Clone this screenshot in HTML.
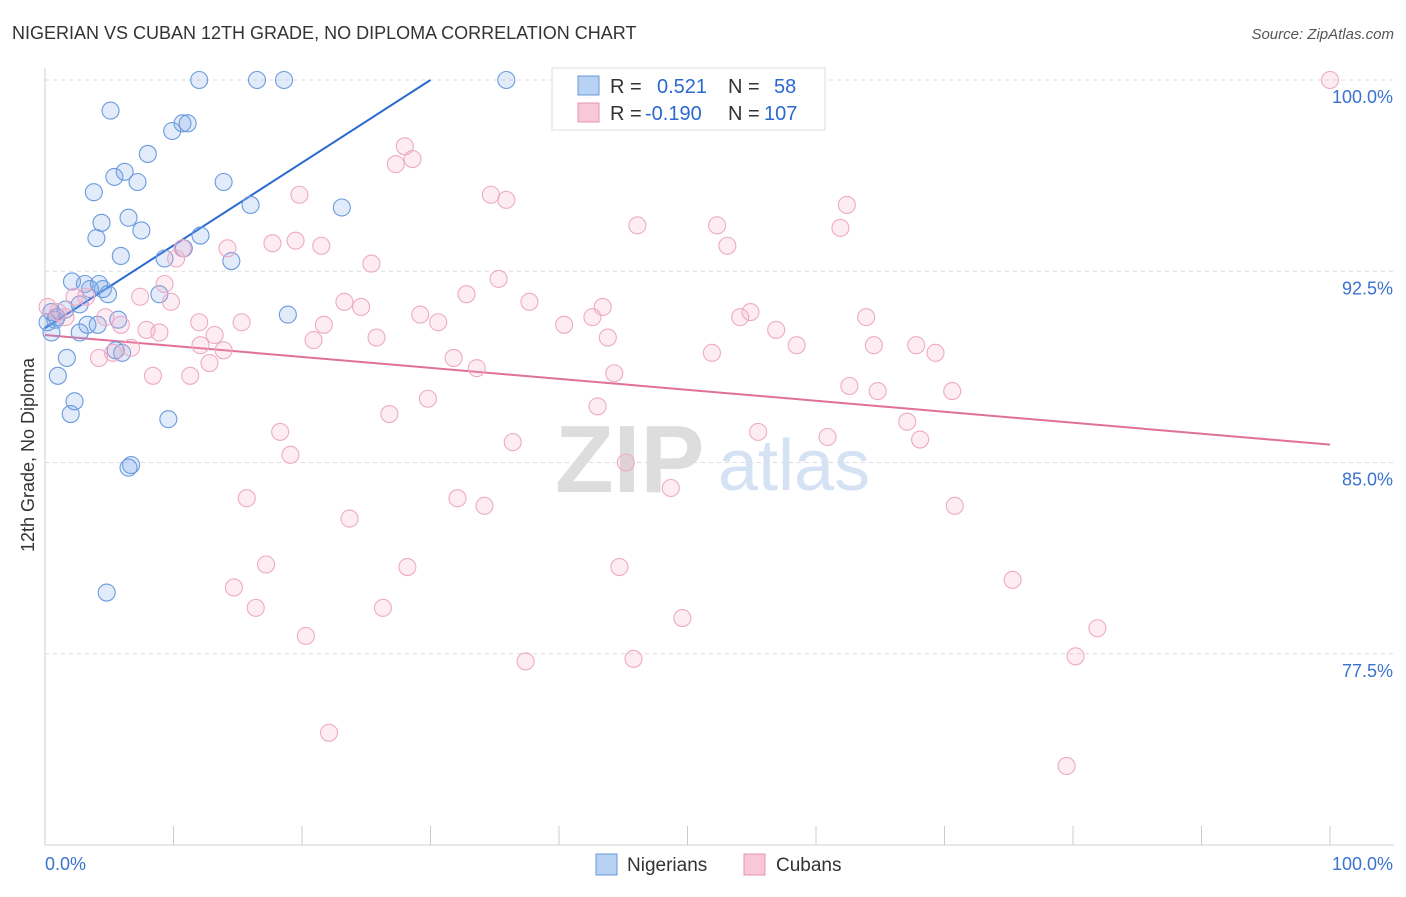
<!DOCTYPE html>
<html><head><meta charset="utf-8"><style>
body{margin:0;background:#fff;font-family:"Liberation Sans",sans-serif}
svg text{font-family:"Liberation Sans",sans-serif}
</style></head><body>
<svg id="chart" width="1406" height="892" xmlns="http://www.w3.org/2000/svg">
<text x="12" y="39" font-size="18" fill="#333">NIGERIAN VS CUBAN 12TH GRADE, NO DIPLOMA CORRELATION CHART</text>
<text x="1394" y="39" font-size="15" fill="#555" text-anchor="end" font-style="italic">Source: ZipAtlas.com</text>
<g>
<text x="555" y="492" font-size="96" fill="#ddd" font-family="Liberation Serif" font-weight="bold">ZIP</text>
<text x="718" y="490" font-size="72" fill="#d4e2f4">atlas</text>
</g>
<g id="grid"></g>
<g id="axes"></g>
<g id="trends"></g>
<g id="pts"></g>
<text transform="translate(34,455) rotate(-90)" font-size="18" fill="#333" text-anchor="middle">12th Grade, No Diploma</text>
<g>
<rect x="552" y="68" width="273" height="62" fill="#fff" stroke="#ddd"/>
<rect x="578" y="76" width="21" height="19" fill="#b8d2f4" stroke="#6a9ad8"/>
<rect x="578" y="103" width="21" height="19" fill="#f9c8d8" stroke="#e893b2"/>
<text x="610" y="93" font-size="20" fill="#333">R =</text><text x="657" y="93" font-size="20" fill="#2a6ad0">0.521</text>
<text x="728" y="93" font-size="20" fill="#333">N =</text><text x="774" y="93" font-size="20" fill="#2a6ad0">58</text>
<text x="610" y="120" font-size="20" fill="#333">R =</text><text x="645" y="120" font-size="20" fill="#2a6ad0">-0.190</text>
<text x="728" y="120" font-size="20" fill="#333">N =</text><text x="764" y="120" font-size="20" fill="#2a6ad0">107</text>
</g>
<g>
<rect x="596" y="854" width="21" height="21" fill="#b8d2f4" stroke="#6a9ad8"/>
<text x="627" y="871" font-size="19" fill="#333">Nigerians</text>
<rect x="744" y="854" width="21" height="21" fill="#f9c8d8" stroke="#e893b2"/>
<text x="776" y="871" font-size="19" fill="#333">Cubans</text>
</g>
</svg>
<script>
const yTicks=[100,92.5,85,77.5];
const yTickLabels=["100.0%","92.5%","85.0%","77.5%"];
const xTicks=[0,10,20,30,40,50,60,70,80,90,100];
const xEndLabels=["0.0%","100.0%"];
const nigX=[12.0,16.5,18.6,35.9,5.1,10.7,11.1,9.9,8.0,6.2,5.4,7.2,3.8,13.9,16.0,23.1,4.4,6.5,7.5,4.0,10.8,12.1,5.9,9.3,14.5,2.1,3.1,4.2,3.5,4.5,4.9,8.9,2.7,1.6,0.5,0.9,0.2,3.3,4.1,2.7,0.5,5.7,18.9,5.5,6.0,1.7,1.0,2.3,2.0,9.6,6.7,6.5,4.8,0.8];
const nigY=[100,100,100,100,98.8,98.3,98.3,98.0,97.1,96.4,96.2,96.0,95.6,96.0,95.1,95.0,94.4,94.6,94.1,93.8,93.4,93.9,93.1,93.0,92.9,92.1,92.0,92.0,91.8,91.8,91.6,91.6,91.2,91.0,90.9,90.7,90.5,90.4,90.4,90.1,90.1,90.6,90.8,89.4,89.3,89.1,88.4,87.4,86.9,86.7,84.9,84.8,79.9,90.6];
const cubX=[100,28.0,28.6,27.3,34.7,35.9,19.8,62.4,46.1,52.3,61.9,53.1,17.7,19.5,21.5,14.2,10.7,10.2,25.4,35.3,9.3,7.4,9.8,3.2,2.3,32.8,37.7,23.3,24.6,43.4,0.2,1.0,1.6,29.2,30.6,40.4,42.6,54.1,54.9,63.9,4.7,5.9,7.9,12.0,15.3,21.7,20.9,25.8,43.8,56.9,8.9,13.2,12.1,13.9,6.7,5.3,4.2,12.8,31.8,33.6,58.5,51.9,64.5,67.8,69.3,44.3,8.4,11.3,62.6,64.8,70.6,29.8,43.0,26.8,67.1,18.3,36.4,55.5,60.9,68.1,19.1,45.2,48.7,15.7,32.1,34.2,70.8,23.7,17.2,28.2,44.7,14.7,16.4,26.3,75.3,49.6,20.3,81.9,37.4,45.8,80.2,22.1,79.5];
const cubY=[100,97.4,96.9,96.7,95.5,95.3,95.5,95.1,94.3,94.3,94.2,93.5,93.6,93.7,93.5,93.4,93.4,93.0,92.8,92.2,92.0,91.5,91.3,91.5,91.5,91.6,91.3,91.3,91.1,91.1,91.1,90.9,90.7,90.8,90.5,90.4,90.7,90.7,90.9,90.7,90.7,90.4,90.2,90.5,90.5,90.4,89.8,89.9,89.9,90.2,90.1,90.0,89.6,89.4,89.5,89.3,89.1,88.9,89.1,88.7,89.6,89.3,89.6,89.6,89.3,88.5,88.4,88.4,88.0,87.8,87.8,87.5,87.2,86.9,86.6,86.2,85.8,86.2,86.0,85.9,85.3,85.0,84.0,83.6,83.6,83.3,83.3,82.8,81.0,80.9,80.9,80.1,79.3,79.3,80.4,78.9,78.2,78.5,77.2,77.3,77.4,74.4,73.1];
const nigTrendX=[0,30.0];
const nigTrendY=[90.27,100];
const cubTrendX=[0,100];
const cubTrendY=[90.0,85.7];

const X0=45,X1=1330,Y0=80,Y1=845;
const sx=v=>X0+(v/100)*(X1-X0);
const sy=v=>Y0+(100-v)/30*(Y1-Y0);
const NS="http://www.w3.org/2000/svg";
function mk(tag,attrs,parent){const e=document.createElementNS(NS,tag);for(const k in attrs)e.setAttribute(k,attrs[k]);parent.appendChild(e);return e;}
const grid=document.getElementById('grid'),axes=document.getElementById('axes'),tr=document.getElementById('trends'),pts=document.getElementById('pts');
yTicks.forEach((t,i)=>{
 const l=mk('line',{x1:X0,x2:1394,y1:sy(t),y2:sy(t),stroke:'#ddd','stroke-dasharray':'4,4'},grid);
 
 
 const tx=mk('text',{x:1393,y:sy(t)+23,'font-size':18,fill:'#3a72d0','text-anchor':'end'},axes);
 tx.textContent=yTickLabels[i];
 
 
});
const ya=mk('line',{x1:X0,x2:X0,y1:68,y2:Y1,stroke:'#ccc'},axes);


const xa=mk('line',{x1:X0,x2:1394,y1:Y1,y2:Y1,stroke:'#d0d0d0'},axes);


xTicks.forEach(t=>{
 const l=mk('line',{x1:sx(t),x2:sx(t),y1:826,y2:Y1,stroke:'#ccc'},axes);
 
 
});
const xl0=mk('text',{x:45,y:870,'font-size':18,fill:'#3a72d0'},axes);xl0.textContent=xEndLabels[0];


const xl1=mk('text',{x:1393,y:870,'font-size':18,fill:'#3a72d0','text-anchor':'end'},axes);xl1.textContent=xEndLabels[1];


nigX.forEach((v,i)=>{
 const c=mk('circle',{cx:sx(v),cy:sy(nigY[i]),r:8.5,fill:'rgba(120,165,230,0.22)',stroke:'#6b9bdc','stroke-width':1.1},pts);
 
 
});
cubX.forEach((v,i)=>{
 const c=mk('circle',{cx:sx(v),cy:sy(cubY[i]),r:8.5,fill:'rgba(245,165,195,0.2)',stroke:'#eeaac4','stroke-width':1.1},pts);
 
 
});
const t1=mk('line',{x1:sx(nigTrendX[0]),y1:sy(nigTrendY[0]),x2:sx(nigTrendX[1]),y2:sy(nigTrendY[1]),stroke:'#2a6ad0','stroke-width':2},tr);


const t2=mk('line',{x1:sx(cubTrendX[0]),y1:sy(cubTrendY[0]),x2:sx(cubTrendX[1]),y2:sy(cubTrendY[1]),stroke:'#e0709a','stroke-width':2},tr);


</script>
</body></html>
